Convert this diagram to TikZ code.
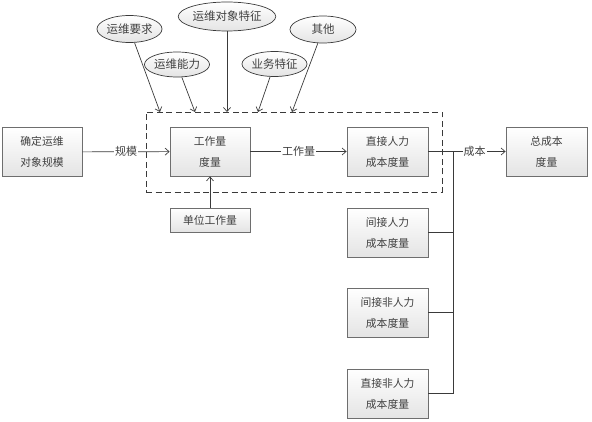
\documentclass[tikz,border=0pt]{standalone}
\usepackage{fontspec}
\setmainfont{Noto Sans CJK SC}
\usetikzlibrary{arrows.meta,shadows,shapes.geometric}
\definecolor{boxborder}{HTML}{6E6E6E}
\definecolor{boxbot}{HTML}{E4E4E4}
\definecolor{txt}{HTML}{404040}
\definecolor{ln}{HTML}{3A3A3A}
\begin{document}
\begin{tikzpicture}[x=1pt,y=-1pt,
  box/.style={draw=boxborder, line width=0.8pt, top color=white, bottom color=boxbot,
    minimum width=80pt, minimum height=49pt, inner sep=0pt, align=center,
    font=\fontsize{10.8}{21}\selectfont, text=txt,
    drop shadow={shadow xshift=1pt,shadow yshift=-1pt,opacity=0.3}},
  ell/.style={ellipse, draw=ln, line width=0.7pt, top color=white, bottom color=boxbot,
    inner sep=0pt, font=\fontsize{11.5}{13}\selectfont, text=txt},
  lbl/.style={fill=white, inner sep=1pt, font=\fontsize{11}{13}\selectfont, text=txt},
  conn/.style={draw=ln, line width=0.7pt},
  arr/.style={conn, -{Straight Barb[length=4pt,width=7pt]}},
  grp/.style={draw=ln, line width=0.8pt, dash pattern=on 6pt off 3.5pt, minimum width=296pt, minimum height=80pt, inner sep=0pt}
]
\useasboundingbox (0,0) rectangle (592,422);

% dashed group
\node[grp] (grp) at (294,152) {};

% boxes
\node[box] (b1) at (42,152) {确定运维\\对象规模};
\node[box] (wl) at (210,151.5) {工作量\\度量};
\node[box, minimum width=81pt] (zj) at (387.5,151.5) {直接人力\\成本度量};
\node[box, minimum width=81pt] (zc) at (546.5,151.5) {总成本\\度量};
\node[box, minimum height=24pt] (dw) at (210,220) {单位工作量};
\node[box, minimum width=81pt] (jj) at (387.5,232.5) {间接人力\\成本度量};
\node[box, minimum width=81pt] (jf) at (387.5,312.5) {间接非人力\\成本度量};
\node[box, minimum width=81pt] (zf) at (387.5,393.5) {直接非人力\\成本度量};

% ellipses
\node[ell, minimum width=64pt, minimum height=27pt] (e1) at (129.5,29) {运维要求};
\node[ell, minimum width=64pt, minimum height=25pt] (e2) at (177,64.5) {运维能力};
\node[ell, minimum width=90pt, minimum height=29pt] (e3) at (227,16.5) {运维对象特征};
\node[ell, minimum width=65pt, minimum height=25pt] (e4) at (274.5,64) {业务特征};
\node[ell, minimum width=66pt, minimum height=27pt] (e5) at (323,29.5) {其他};

% arrow targets on the dashed frame
\coordinate (t1) at (160,112);
\coordinate (t2) at (195,112);
\coordinate (t3) at (227,112);
\coordinate (t4) at (258,112);
\coordinate (t5) at (292,112);
\coordinate (bus) at (453,151.5);
\coordinate (busend) at (453,393.5);

\draw[arr] (e1) -- (t1);
\draw[arr] (e2) -- (t2);
\draw[arr] (e3) -- (t3);
\draw[arr] (e4) -- (t4);
\draw[arr] (e5) -- (t5);

\draw[arr] (b1) -- node[lbl] {规模} (wl);
\draw[arr] (wl) -- node[lbl] {工作量} (zj);
\draw[arr] (dw) -- (wl);
\draw[arr] (zj) -- node[lbl, pos=0.6] {成本} (zc);

\draw[conn] (bus) -- (busend);
\draw[conn] (jj.east) -- (jj.east -| bus);
\draw[conn] (jf.east) -- (jf.east -| bus);
\draw[conn] (zf.east) -- (busend);
\end{tikzpicture}
\end{document}
